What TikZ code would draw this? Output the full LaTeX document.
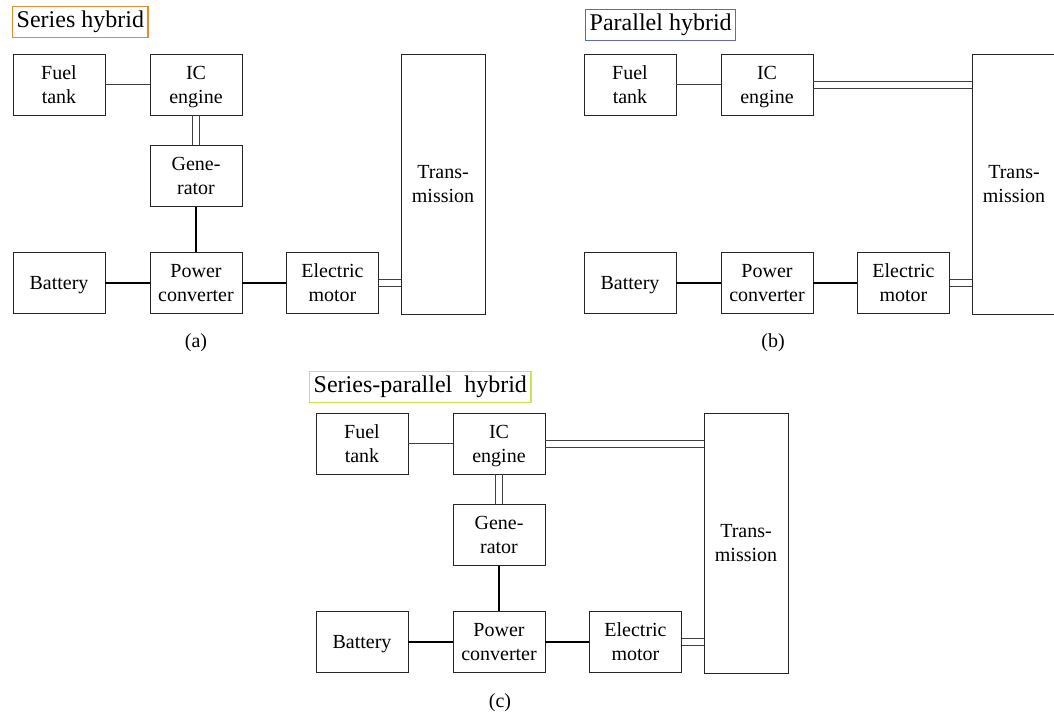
\documentclass[tikz,border=0pt]{standalone}
\usepackage{fontspec}
\setmainfont{Liberation Serif}
\usetikzlibrary{positioning}
\definecolor{serorange}{RGB}{232,138,48}
\definecolor{parblue}{RGB}{92,104,196}
\definecolor{spgreen}{RGB}{208,226,84}
\tikzset{
  blk/.style={draw=black!85, line width=0.7pt, minimum width=92pt, minimum height=61pt,
    inner sep=0pt, text depth=0pt, align=center, font=\fontsize{20}{24}\selectfont},
  mech/.style={draw=black!75, line width=0.6pt},
  elec/.style={draw=black, line width=2pt},
  ttl/.style={draw=#1, line width=1.4pt, inner sep=4pt, minimum height=31pt,
    anchor=north west, font=\fontsize{24}{28}\selectfont},
  figlbl/.style={font=\fontsize{20}{24}\selectfont}
}
\begin{document}
\begin{tikzpicture}[x=1pt, y=-1pt]
  \useasboundingbox (0,0) rectangle (1054,717);
  % (a) series hybrid
  \begin{scope}[name prefix=a-]
    \node[ttl=serorange] (title) at (12,6) {Series hybrid};
    \node[blk] (fuel) at (59,84.5) {Fuel\\tank};
    \node[blk] (ice) at (196,84.5) {IC\\engine};
    \node[blk] (gen) at (196,176) {Gene-\\rator};
    \node[blk] (bat) at (59,283) {Battery};
    \node[blk] (conv) at (196,283) {Power\\converter};
    \node[blk] (mot) at (332.5,283) {Electric\\motor};
    \node[blk, minimum width=84pt, minimum height=260pt] (trans) at (443,184) {Trans-\\mission};
    \draw[mech] (fuel) -- (ice);
    \draw[mech] ([xshift=-3.5pt]ice.south) -- ([xshift=-3.5pt]gen.north);
    \draw[mech] ([xshift=3.5pt]ice.south) -- ([xshift=3.5pt]gen.north);
    \draw[elec] (gen) -- (conv);
    \draw[elec] (bat) -- (conv);
    \draw[elec] (conv) -- (mot);
    \draw[mech] ([yshift=-3.5pt]mot.east) -- ([yshift=-3.5pt]trans.west |- mot.east);
    \draw[mech] ([yshift=3.5pt]mot.east) -- ([yshift=3.5pt]trans.west |- mot.east);
    \node[figlbl] (lbl) at (196,343) {(a)};
  \end{scope}
  % (b) parallel hybrid
  \begin{scope}[shift={(571,0)}, name prefix=b-]
    \node[ttl=parblue] (title) at (14,9) {Parallel hybrid};
    \node[blk] (fuel) at (59,84.5) {Fuel\\tank};
    \node[blk] (ice) at (196,84.5) {IC\\engine};
    \node[blk] (bat) at (59,283) {Battery};
    \node[blk] (conv) at (196,283) {Power\\converter};
    \node[blk] (mot) at (332.5,283) {Electric\\motor};
    \node[blk, minimum width=84pt, minimum height=260pt] (trans) at (443,184) {Trans-\\mission};
    \draw[mech] (fuel) -- (ice);
    \draw[mech] ([yshift=-3.5pt]ice.east) -- ([yshift=-3.5pt]trans.west |- ice.east);
    \draw[mech] ([yshift=3.5pt]ice.east) -- ([yshift=3.5pt]trans.west |- ice.east);
    \draw[elec] (bat) -- (conv);
    \draw[elec] (conv) -- (mot);
    \draw[mech] ([yshift=-3.5pt]mot.east) -- ([yshift=-3.5pt]trans.west |- mot.east);
    \draw[mech] ([yshift=3.5pt]mot.east) -- ([yshift=3.5pt]trans.west |- mot.east);
    \node[figlbl] (lbl) at (202,343) {(b)};
  \end{scope}
  % (c) series-parallel hybrid
  \begin{scope}[shift={(303,359)}, name prefix=c-]
    \node[ttl=spgreen] (title) at (6,12) {Series-parallel\ \ hybrid};
    \node[blk] (fuel) at (59,84.5) {Fuel\\tank};
    \node[blk] (ice) at (196,84.5) {IC\\engine};
    \node[blk] (gen) at (196,176) {Gene-\\rator};
    \node[blk] (bat) at (59,283) {Battery};
    \node[blk] (conv) at (196,283) {Power\\converter};
    \node[blk] (mot) at (332.5,283) {Electric\\motor};
    \node[blk, minimum width=84pt, minimum height=260pt] (trans) at (443,184) {Trans-\\mission};
    \draw[mech] (fuel) -- (ice);
    \draw[mech] ([yshift=-3.5pt]ice.east) -- ([yshift=-3.5pt]trans.west |- ice.east);
    \draw[mech] ([yshift=3.5pt]ice.east) -- ([yshift=3.5pt]trans.west |- ice.east);
    \draw[mech] ([xshift=-3.5pt]ice.south) -- ([xshift=-3.5pt]gen.north);
    \draw[mech] ([xshift=3.5pt]ice.south) -- ([xshift=3.5pt]gen.north);
    \draw[elec] (gen) -- (conv);
    \draw[elec] (bat) -- (conv);
    \draw[elec] (conv) -- (mot);
    \draw[mech] ([yshift=-3.5pt]mot.east) -- ([yshift=-3.5pt]trans.west |- mot.east);
    \draw[mech] ([yshift=3.5pt]mot.east) -- ([yshift=3.5pt]trans.west |- mot.east);
    \node[figlbl] (lbl) at (197,344) {(c)};
  \end{scope}
\end{tikzpicture}
\end{document}
